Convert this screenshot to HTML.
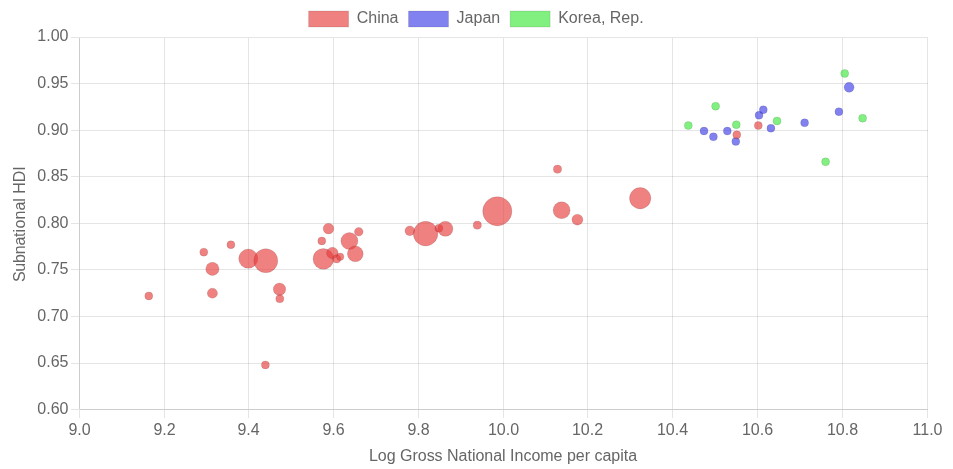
<!DOCTYPE html>
<html lang="en">
<head>
<meta charset="utf-8">
<title>Subnational HDI vs Log GNI per capita</title>
<style>
html,body{margin:0;padding:0;background:#fff;}
body{width:953px;height:469px;overflow:hidden;}
svg{display:block;}
text{font-family:"Liberation Sans",Arial,Helvetica,sans-serif;font-size:16px;fill:#666;}
.g{stroke:rgba(0,0,0,0.1);stroke-width:1;fill:none;shape-rendering:crispEdges;}
.b{stroke:rgba(0,0,0,0.1);stroke-width:1;}
</style>
</head>
<body>
<svg width="953" height="469" viewBox="0 0 953 469">
<rect x="0" y="0" width="953" height="469" fill="#fff"/>
<path class="g" d="M71 37.5H79M80 37.5H928M71 83.5H79M80 83.5H928M71 130.5H79M80 130.5H928M71 176.5H79M80 176.5H928M71 223.5H79M80 223.5H928M71 269.5H79M80 269.5H928M71 316.5H79M80 316.5H928M71 363.5H79M80 363.5H928M71 409.5H79M80 409.5H928"/>
<path class="g" d="M79.5 38V409M79.5 410V417.5M164.5 38V409M164.5 410V417.5M248.5 38V409M248.5 410V417.5M333.5 38V409M333.5 410V417.5M418.5 38V409M418.5 410V417.5M503.5 38V409M503.5 410V417.5M587.5 38V409M587.5 410V417.5M672.5 38V409M672.5 410V417.5M757.5 38V409M757.5 410V417.5M842.5 38V409M842.5 410V417.5M927.5 38V409M927.5 410V417.5"/>
<path class="g" d="M79.5 37V410M80 409.5H928"/>
<g text-anchor="end">
<text x="68.5" y="41">1.00</text>
<text x="68.5" y="88">0.95</text>
<text x="68.5" y="135">0.90</text>
<text x="68.5" y="181">0.85</text>
<text x="68.5" y="228">0.80</text>
<text x="68.5" y="274">0.75</text>
<text x="68.5" y="321">0.70</text>
<text x="68.5" y="367">0.65</text>
<text x="68.5" y="414">0.60</text>
</g>
<g text-anchor="middle">
<text x="79.5" y="434.9">9.0</text>
<text x="164.5" y="434.9">9.2</text>
<text x="248.5" y="434.9">9.4</text>
<text x="333.5" y="434.9">9.6</text>
<text x="418.5" y="434.9">9.8</text>
<text x="503.5" y="434.9">10.0</text>
<text x="587.5" y="434.9">10.2</text>
<text x="672.5" y="434.9">10.4</text>
<text x="757.5" y="434.9">10.6</text>
<text x="842.5" y="434.9">10.8</text>
<text x="927.5" y="434.9">11.0</text>
<text x="368.9" y="460.5" text-anchor="start" textLength="268.2">Log Gross National Income per capita</text>
<text transform="translate(24.8,224.15) rotate(-90)" dx="0 -0.4 -0.1 -0.4 -0.1 -0.25 -0.05 0.4 0.1 0.15 -0.05 -0.1 -0.05 -0.05 -0.1">Subnational HDI</text>
</g>
<rect class="b" x="308.6" y="11" width="40" height="16" fill="rgba(232,58,58,0.64)"/>
<text x="356.7" y="22.7">China</text>
<rect class="b" x="408.5" y="11" width="40" height="16" fill="rgba(58,58,232,0.64)"/>
<text x="456.6" y="22.7">Japan</text>
<rect class="b" x="510.1" y="11" width="40" height="16" fill="rgba(58,232,58,0.64)"/>
<text x="558.2" y="22.7">Korea, Rep.</text>
<g class="b" fill="rgba(58,232,58,0.64)" id="korea">
<circle cx="688.3" cy="125.55" r="4.00"/>
<circle cx="715.6" cy="106.15" r="4.00"/>
<circle cx="736.3" cy="124.65" r="4.00"/>
<circle cx="777.0" cy="120.95" r="4.00"/>
<circle cx="844.7" cy="73.45" r="4.00"/>
<circle cx="862.6" cy="118.15" r="4.00"/>
<circle cx="825.6" cy="161.85" r="4.00"/>
</g>
<g class="b" fill="rgba(58,58,232,0.64)" id="japan">
<circle cx="704.0" cy="131.05" r="4.00"/>
<circle cx="713.4" cy="136.85" r="4.00"/>
<circle cx="727.3" cy="131.05" r="4.00"/>
<circle cx="735.8" cy="141.45" r="4.00"/>
<circle cx="759.0" cy="115.35" r="4.00"/>
<circle cx="763.3" cy="109.85" r="4.00"/>
<circle cx="770.9" cy="128.25" r="4.00"/>
<circle cx="804.6" cy="122.85" r="4.00"/>
<circle cx="838.9" cy="111.65" r="4.00"/>
<circle cx="849.1" cy="87.35" r="5.00"/>
</g>
<g class="b" fill="rgba(232,58,58,0.64)" id="china">
<circle cx="148.8" cy="295.9" r="4.00"/>
<circle cx="203.8" cy="252.2" r="4.00"/>
<circle cx="212.4" cy="268.9" r="6.65"/>
<circle cx="212.4" cy="293.25" r="5.10"/>
<circle cx="230.9" cy="244.7" r="4.00"/>
<circle cx="248.3" cy="258.7" r="9.60"/>
<circle cx="265.8" cy="260.7" r="12.00"/>
<circle cx="279.5" cy="289.25" r="6.20"/>
<circle cx="279.8" cy="298.75" r="4.05"/>
<circle cx="265.4" cy="364.95" r="4.00"/>
<circle cx="328.5" cy="228.6" r="5.35"/>
<circle cx="321.8" cy="240.9" r="4.00"/>
<circle cx="323.4" cy="258.9" r="10.40"/>
<circle cx="332.4" cy="253.0" r="5.80"/>
<circle cx="336.7" cy="258.9" r="4.10"/>
<circle cx="340.2" cy="256.8" r="3.70"/>
<circle cx="349.4" cy="241.05" r="8.55"/>
<circle cx="358.75" cy="231.75" r="4.35"/>
<circle cx="355.3" cy="253.8" r="7.90"/>
<circle cx="409.8" cy="230.85" r="4.90"/>
<circle cx="425.6" cy="233.65" r="12.30"/>
<circle cx="438.9" cy="228.15" r="4.00"/>
<circle cx="445.4" cy="228.8" r="7.55"/>
<circle cx="477.3" cy="225.2" r="4.10"/>
<circle cx="497.3" cy="211.3" r="14.60"/>
<circle cx="557.5" cy="169.2" r="4.10"/>
<circle cx="561.6" cy="210.25" r="8.50"/>
<circle cx="577.4" cy="219.65" r="5.50"/>
<circle cx="640.2" cy="198.2" r="10.70"/>
<circle cx="736.8" cy="134.85" r="4.00"/>
<circle cx="758.3" cy="125.55" r="4.00"/>
</g>
</svg>
</body>
</html>
